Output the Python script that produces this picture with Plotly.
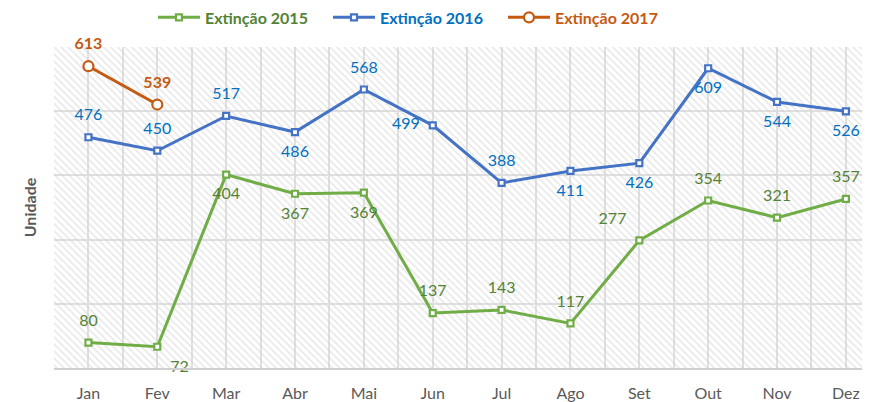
import plotly.graph_objects as go

months = ["Jan", "Fev", "Mar", "Abr", "Mai", "Jun", "Jul", "Ago", "Set", "Out", "Nov", "Dez"]
ext2015 = [80, 72, 404, 367, 369, 137, 143, 117, 277, 354, 321, 357]
ext2016 = [476, 450, 517, 486, 568, 499, 388, 411, 426, 609, 544, 526]
ext2017 = [613, 539]

pos2015 = ["top center", "bottom right", "bottom center", "bottom center", "bottom center",
           "top center", "top center", "top center", "top left", "top center", "top center", "top center"]
pos2016 = ["top center", "top center", "top center", "bottom center", "top center",
           "middle left", "top center", "bottom center", "bottom center", "bottom center",
           "bottom center", "bottom center"]
pos2017 = ["top center", "top center"]

Y_MIN, Y_MAX, Y_STEP = 31, 650, 123.8
X_MIN, X_MAX = -0.5, 11.35

FONT = "Lato"
GREEN, GREEN_T = "#70ad47", "#548235"
BLUE, BLUE_T = "#4472c4", "#0070c0"
ORANGE = "#c55a11"
GRID = "#e0e0e0"

xs = list(range(len(months)))

fig = go.Figure()

# hatched plot-area background
fig.add_trace(go.Scatter(
    x=[X_MIN, X_MAX, X_MAX, X_MIN, X_MIN], y=[Y_MIN, Y_MIN, Y_MAX, Y_MAX, Y_MIN],
    mode="none", fill="toself", fillcolor="rgba(0,0,0,0)",
    fillpattern=dict(shape="\\", fgcolor="#cfcfcf", bgcolor="rgba(0,0,0,0)", size=5, solidity=0.3),
    hoverinfo="skip", showlegend=False))


def add_series(vals, name, color, tcolor, symbol, msize, positions, bold=False):
    x = xs[:len(vals)]
    fig.add_trace(go.Scatter(
        x=x, y=vals, mode="lines+markers",
        name=f"<span style='color:{tcolor}'><b>{name}</b></span>",
        line=dict(color=color, width=3),
        marker=dict(symbol=symbol, size=msize, color="white", line=dict(color=color, width=2.2))))
    fig.add_trace(go.Scatter(
        x=x, y=vals, mode="markers+text", showlegend=False, hoverinfo="skip",
        cliponaxis=False,
        marker=dict(size=19, color="rgba(0,0,0,0)"),
        text=[(f"<b>{v}</b>" if bold else str(v)) for v in vals], textposition=positions,
        textfont=dict(color=tcolor, size=16, family=FONT)))


add_series(ext2015, "Extinção 2015", GREEN, GREEN_T, "square", 6, pos2015)
add_series(ext2016, "Extinção 2016", BLUE, BLUE_T, "square", 6, pos2016)
add_series(ext2017, "Extinção 2017", ORANGE, ORANGE, "circle", 10, pos2017, bold=True)

# page has an 8px body margin, so the figure is sized/offset to compensate
fig.update_layout(
    width=862, height=394,
    margin=dict(l=46, r=0, t=39, b=34),
    paper_bgcolor="white", plot_bgcolor="white",
    font=dict(family=FONT, color="#595959"),
    showlegend=True,
    legend=dict(orientation="h", xref="container", yref="container",
                x=0.1682, xanchor="left", y=0.976, yanchor="middle",
                entrywidth=118, entrywidthmode="pixels",
                font=dict(size=16, family=FONT), itemwidth=42,
                bgcolor="rgba(0,0,0,0)"),
    xaxis=dict(range=[X_MIN, X_MAX], tickmode="array", tickvals=xs, ticktext=months,
               showgrid=True, gridcolor=GRID, gridwidth=1.5,
               minor=dict(tickvals=[i + 0.5 for i in range(-1, len(months))],
                          showgrid=True, gridcolor=GRID, gridwidth=1.5),
               showline=True, linecolor="#d0d0d0", linewidth=1.5,
               ticks="outside", ticklen=10, tickcolor="rgba(0,0,0,0)",
               tickfont=dict(size=16, color="#595959", family=FONT),
               zeroline=False, automargin=False, fixedrange=True),
    yaxis=dict(range=[Y_MIN, Y_MAX], tick0=Y_MIN, dtick=Y_STEP,
               showgrid=True, gridcolor=GRID, gridwidth=1.5,
               showticklabels=False, zeroline=False, showline=False,
               title=dict(text="<b>Unidade</b>", font=dict(size=16, color="#595959", family=FONT),
                          standoff=12),
               automargin=False, fixedrange=True),
)

fig.write_html("out.html")
